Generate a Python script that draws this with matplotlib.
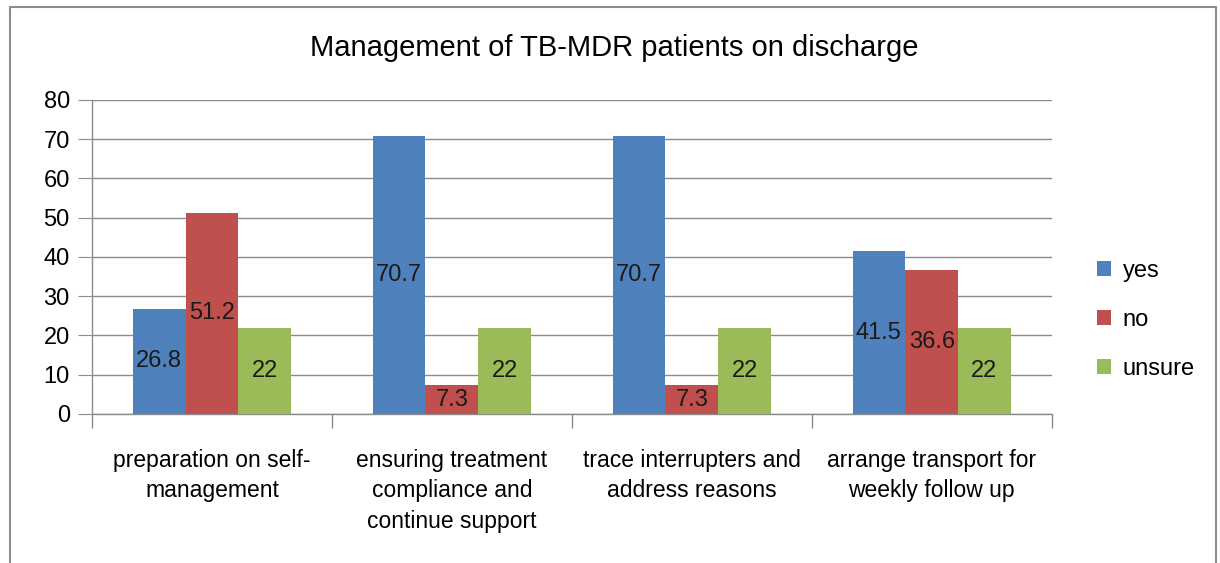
import numpy as np
import matplotlib
matplotlib.use("Agg")
import matplotlib.pyplot as plt
from matplotlib.patches import Rectangle

plt.rcParams['font.family'] = ['Liberation Sans', 'DejaVu Sans']

categories = ["preparation on self-\nmanagement",
              "ensuring treatment\ncompliance and\ncontinue support",
              "trace interrupters and\naddress reasons",
              "arrange transport for\nweekly follow up"]
yes_vals = [26.8, 70.7, 70.7, 41.5]
no_vals = [51.2, 7.3, 7.3, 36.6]
unsure_vals = [22, 22, 22, 22]
series_names = ["yes", "no", "unsure"]
colors = ["#4F81BD", "#C0504D", "#9BBB59"]

fig = plt.figure(figsize=(12.2, 5.63), dpi=100)
ax = fig.add_axes([0.0754, 0.2647, 0.7866, 0.5577])

# outer chart border
fig.patches.append(Rectangle((10 / 1220, -0.05), 1206 / 1220, 1 - 7 / 563 + 0.05,
                             transform=fig.transFigure, fill=False,
                             edgecolor="#8c8c8c", linewidth=1.5))

x = np.arange(len(categories))
w = 0.22
for i, (vals, name, c) in enumerate(zip([yes_vals, no_vals, unsure_vals], series_names, colors)):
    bars = ax.bar(x + (i - 1) * w, vals, w, color=c, label=name, zorder=3)
    for b, v in zip(bars, vals):
        ax.text(b.get_x() + b.get_width() / 2, v / 2, f"{v:g}",
                ha="center", va="center", fontsize=17, color="#1a1a1a", zorder=4)

ax.set_ylim(0, 80)
ax.set_yticks(range(0, 81, 10))
ax.set_xlim(-0.5, len(categories) - 0.5)
ax.set_xticks(x)
ax.set_xticklabels(categories, fontsize=16.5, linespacing=1.42, va="top")
ax.set_xticks(np.arange(-0.5, len(categories)), minor=True)
ax.tick_params(axis="x", which="major", length=0, pad=25)
ax.tick_params(axis="x", which="minor", length=10, color="#8c8c8c", width=1)
ax.tick_params(axis="y", length=10, color="#8c8c8c", labelsize=17, pad=6)
ax.grid(axis="y", color="#8c8c8c", linewidth=1, zorder=0)
for s in ["top", "right"]:
    ax.spines[s].set_visible(False)
for s in ["left", "bottom"]:
    ax.spines[s].set_color("#8c8c8c")
    ax.spines[s].set_linewidth(1)

fig.text(614 / 1220, 1 - 48 / 563, "Management of TB-MDR patients on discharge",
         ha="center", va="center", fontsize=21)

ax.legend(loc="center left", bbox_to_anchor=(1.025, 0.30), frameon=False,
          fontsize=17, handlelength=0.6, handleheight=0.6, labelspacing=1.15,
          handletextpad=0.5)

fig.savefig("out.png", dpi=100)
